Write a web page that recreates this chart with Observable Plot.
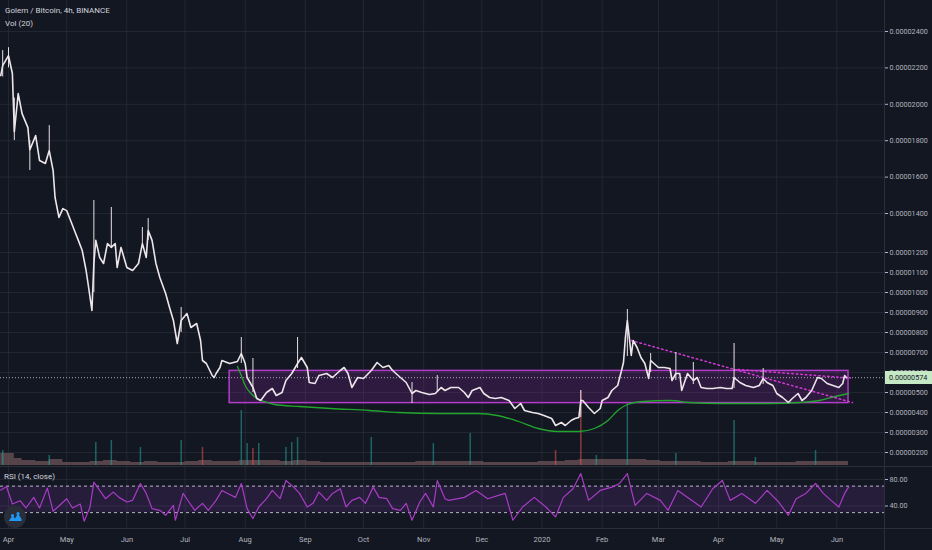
<!DOCTYPE html>
<html><head><meta charset="utf-8">
<script src="https://cdn.jsdelivr.net/npm/d3@7"></script>
<script src="https://cdn.jsdelivr.net/npm/@observablehq/plot@0.6"></script>
<style>
html,body{margin:0;padding:0;background:#131722;}
#chart{position:relative;width:932px;height:550px;background:#131722;overflow:hidden;font-family:Roboto,"Noto Sans",sans-serif;}
#chart .layer{position:absolute;left:0;}
#chart svg{display:block;}
.legend{position:absolute;color:#d1d4dc;font-size:8px;white-space:nowrap;line-height:1;}
.sep{position:absolute;background:#2a2e39;}
#lastbox{position:absolute;left:884px;width:48px;height:13px;background:#c5e8c5;color:#131722;font-size:7.2px;line-height:13px;padding-left:5px;box-sizing:border-box;}
</style></head>
<body><div id="chart"></div>
<script>
// ---------- DATA (values in satoshi = 1e-8 BTC) ----------
const price = [["2019-03-28",2158],["2019-03-29",2212],["2019-04-01",2267],["2019-04-03",2169],["2019-04-04",1850],["2019-04-06",2059],["2019-04-08",1949],["2019-04-11",1872],["2019-04-12",1750],["2019-04-15",1828],["2019-04-17",1691],["2019-04-20",1675],["2019-04-22",1746],["2019-04-24",1636],["2019-04-25",1488],["2019-04-27",1380],["2019-04-29",1427],["2019-05-01",1416],["2019-05-03",1364],["2019-05-05",1313],["2019-05-07",1262],["2019-05-09",1210],["2019-05-11",1110],["2019-05-12",1045],["2019-05-14",910],["2019-05-15",1145],["2019-05-16",1262],["2019-05-18",1175],["2019-05-20",1145],["2019-05-22",1246],["2019-05-24",1226],["2019-05-26",1246],["2019-05-27",1125],["2019-05-29",1226],["2019-06-01",1125],["2019-06-04",1110],["2019-06-07",1145],["2019-06-09",1246],["2019-06-11",1175],["2019-06-12",1313],["2019-06-14",1262],["2019-06-16",1145],["2019-06-18",1075],["2019-06-21",995],["2019-06-23",925],["2019-06-25",860],["2019-06-27",745],["2019-06-29",860],["2019-07-02",895],["2019-07-04",825],["2019-07-07",845],["2019-07-09",760],["2019-07-10",660],["2019-07-12",645],["2019-07-15",585],["2019-07-16",575],["2019-07-17",595],["2019-07-19",625],["2019-07-20",660],["2019-07-24",645],["2019-07-28",655],["2019-07-30",695],["2019-08-01",645],["2019-08-02",575],["2019-08-05",525],["2019-08-07",470],["2019-08-09",460],["2019-08-12",500],["2019-08-15",520],["2019-08-17",485],["2019-08-20",500],["2019-08-22",560],["2019-08-25",595],["2019-08-28",645],["2019-08-30",675],["2019-09-02",625],["2019-09-03",550],["2019-09-06",545],["2019-09-08",585],["2019-09-12",595],["2019-09-15",575],["2019-09-19",610],["2019-09-21",625],["2019-09-23",595],["2019-09-25",525],["2019-09-28",575],["2019-10-01",570],["2019-10-05",610],["2019-10-08",650],["2019-10-11",625],["2019-10-14",635],["2019-10-16",610],["2019-10-20",575],["2019-10-23",550],["2019-10-26",495],["2019-10-28",510],["2019-10-31",500],["2019-11-04",490],["2019-11-07",495],["2019-11-10",525],["2019-11-12",510],["2019-11-15",525],["2019-11-19",525],["2019-11-22",500],["2019-11-24",475],["2019-11-26",510],["2019-11-30",525],["2019-12-02",495],["2019-12-05",475],["2019-12-08",470],["2019-12-11",475],["2019-12-15",460],["2019-12-18",420],["2019-12-21",445],["2019-12-23",410],["2019-12-27",400],["2019-12-30",395],["2020-01-02",385],["2020-01-06",370],["2020-01-08",335],["2020-01-11",350],["2020-01-13",335],["2020-01-16",360],["2020-01-18",370],["2020-01-20",375],["2020-01-21",460],["2020-01-22",460],["2020-01-25",425],["2020-01-28",395],["2020-01-31",420],["2020-02-01",460],["2020-02-04",475],["2020-02-06",510],["2020-02-09",535],["2020-02-11",610],["2020-02-12",650],["2020-02-13",775],["2020-02-14",860],["2020-02-16",685],["2020-02-17",760],["2020-02-19",725],["2020-02-21",675],["2020-02-23",645],["2020-02-25",570],["2020-02-26",660],["2020-03-01",625],["2020-03-04",625],["2020-03-07",620],["2020-03-08",560],["2020-03-10",595],["2020-03-12",595],["2020-03-13",510],["2020-03-16",595],["2020-03-19",560],["2020-03-21",575],["2020-03-23",525],["2020-03-26",520],["2020-03-29",520],["2020-04-02",525],["2020-04-05",520],["2020-04-08",520],["2020-04-09",575],["2020-04-12",550],["2020-04-15",535],["2020-04-19",525],["2020-04-22",535],["2020-04-24",570],["2020-04-26",550],["2020-04-29",535],["2020-05-01",495],["2020-05-04",475],["2020-05-07",450],["2020-05-09",470],["2020-05-12",495],["2020-05-14",460],["2020-05-16",475],["2020-05-19",510],["2020-05-22",575],["2020-05-24",570],["2020-05-27",545],["2020-05-30",535],["2020-06-02",525],["2020-06-04",545],["2020-06-05",585],["2020-06-06",574]];

// wicks: [date, low, high]
const wicks = [["2019-03-29",2150,2295],["2019-04-01",2200,2311],["2019-04-04",1801,2034],["2019-04-12",1636,1800],["2019-04-22",1746,1883],["2019-05-15",1000,1471],["2019-05-24",1226,1433],["2019-06-09",1246,1328],["2019-06-12",1262,1374],["2019-06-29",800,925],["2019-07-30",645,775],["2019-08-05",500,670],["2019-08-28",620,775],["2019-10-26",445,550],["2019-11-08",500,585],["2020-01-21",375,510],["2020-02-14",680,915],["2020-02-26",600,695],["2020-03-10",560,700],["2020-03-19",540,650],["2020-04-09",520,745],["2020-04-24",540,620]];

// support curve (green)
const support = [["2019-07-28",630],["2019-07-30",585],["2019-08-01",535],["2019-08-04",495],["2019-08-07",470],["2019-08-11",455],["2019-08-16",440],["2019-08-29",430],["2019-09-14",420],["2019-10-04",410],["2019-10-19",400],["2019-11-09",395],["2019-11-29",395],["2019-12-09",385],["2019-12-20",355],["2019-12-30",320],["2020-01-09",305],["2020-01-20",305],["2020-01-28",320],["2020-02-04",360],["2020-02-09",410],["2020-02-14",440],["2020-02-22",455],["2020-03-07",460],["2020-03-17",450],["2020-04-02",445],["2020-04-27",445],["2020-05-13",450],["2020-05-23",460],["2020-05-31",480],["2020-06-07",495]];

// range box and trend lines
const zoneStart = "2019-07-24", zoneEnd = "2020-06-07", zoneLow = 447, zoneHigh = 608;
const trendA = [["2020-02-16",760],["2020-06-09",450]];
const trendB = [["2020-04-11",615],["2020-06-08",572]];
const lastPrice = 574;

// price axis ticks
const yTicks = [200,300,400,500,600,700,800,900,1000,1100,1200,1400,1600,1800,2000,2200,2400];

// volume (relative units)
const volBase = [["2019-03-28",12],["2019-04-01",12],["2019-04-04",7],["2019-04-08",5],["2019-04-15",4],["2019-04-22",6],["2019-04-29",3],["2019-05-06",3],["2019-05-13",4],["2019-05-20",5],["2019-05-27",4],["2019-06-03",3],["2019-06-10",4],["2019-06-17",3],["2019-06-24",3],["2019-07-01",4],["2019-07-08",5],["2019-07-15",4],["2019-07-22",4],["2019-07-29",5],["2019-08-05",5],["2019-08-12",5],["2019-08-19",4],["2019-08-26",5],["2019-09-02",4],["2019-09-09",3],["2019-09-16",3],["2019-09-23",3],["2019-09-30",3],["2019-10-07",3],["2019-10-14",3],["2019-10-21",3],["2019-10-28",4],["2019-11-04",4],["2019-11-11",4],["2019-11-18",4],["2019-11-25",4],["2019-12-02",3],["2019-12-09",3],["2019-12-16",3],["2019-12-23",3],["2019-12-30",4],["2020-01-06",4],["2020-01-13",5],["2020-01-20",6],["2020-01-27",6],["2020-02-03",6],["2020-02-10",6],["2020-02-17",6],["2020-02-24",5],["2020-03-02",4],["2020-03-09",4],["2020-03-16",4],["2020-03-23",3],["2020-03-30",3],["2020-04-06",4],["2020-04-13",4],["2020-04-20",3],["2020-04-27",3],["2020-05-04",3],["2020-05-11",4],["2020-05-18",4],["2020-05-25",4],["2020-06-01",4],["2020-06-07",4]];
// [date, volume, up(1)/down(0)]
const volSpikes = [["2019-03-29",15,1],["2019-04-22",10,1],["2019-05-16",23,1],["2019-05-24",25,1],["2019-06-08",18,1],["2019-06-29",25,1],["2019-07-10",18,0],["2019-07-30",55,1],["2019-08-02",22,1],["2019-08-05",17,0],["2019-08-08",22,1],["2019-08-22",18,1],["2019-08-25",23,1],["2019-08-28",28,1],["2019-10-05",28,1],["2019-11-06",22,1],["2019-11-25",32,1],["2020-01-08",15,0],["2020-01-21",75,0],["2020-01-29",10,1],["2020-02-14",62,1],["2020-03-10",12,1],["2020-04-09",45,1],["2020-04-20",8,1],["2020-05-21",15,1]];

// RSI(14)
const rsi = [["2019-03-28",64],["2019-03-31",69],["2019-04-03",43],["2019-04-07",48],["2019-04-10",37],["2019-04-14",53],["2019-04-17",37],["2019-04-21",67],["2019-04-24",32],["2019-04-27",40],["2019-05-01",51],["2019-05-04",37],["2019-05-08",43],["2019-05-10",17],["2019-05-13",38],["2019-05-15",76],["2019-05-18",63.5],["2019-05-21",51],["2019-05-25",61],["2019-05-28",53],["2019-06-01",46],["2019-06-04",48.5],["2019-06-08",74],["2019-06-11",59],["2019-06-14",36],["2019-06-18",33.5],["2019-06-21",26],["2019-06-25",41],["2019-06-26",18.5],["2019-06-30",59],["2019-07-03",46],["2019-07-06",33.5],["2019-07-10",44],["2019-07-13",33.5],["2019-07-17",48.5],["2019-07-20",63.5],["2019-07-23",59],["2019-07-27",53],["2019-07-30",74],["2019-08-02",36],["2019-08-05",21],["2019-08-08",38.5],["2019-08-12",51],["2019-08-15",63.5],["2019-08-19",51],["2019-08-22",78.5],["2019-08-26",68.5],["2019-08-29",59],["2019-09-02",38.5],["2019-09-05",44],["2019-09-08",61],["2019-09-12",48.5],["2019-09-15",59],["2019-09-19",66],["2019-09-22",38.5],["2019-09-25",48.5],["2019-09-29",53],["2019-10-02",44],["2019-10-06",68.5],["2019-10-09",53],["2019-10-13",51],["2019-10-16",36],["2019-10-20",33.5],["2019-10-23",44],["2019-10-26",18.5],["2019-10-30",46],["2019-11-02",59],["2019-11-06",38.5],["2019-11-08",78.5],["2019-11-12",51],["2019-11-14",48.5],["2019-11-22",53],["2019-11-28",63.5],["2019-12-04",51],["2019-12-13",59],["2019-12-17",18.5],["2019-12-22",38.5],["2019-12-28",53],["2020-01-03",38.5],["2020-01-08",23.5],["2020-01-12",53],["2020-01-17",66],["2020-01-21",89],["2020-01-25",48.5],["2020-01-31",63.5],["2020-02-06",68.5],["2020-02-10",74],["2020-02-14",89],["2020-02-18",41],["2020-02-24",59],["2020-03-02",48.5],["2020-03-06",33.5],["2020-03-11",63.5],["2020-03-17",51],["2020-03-23",38.5],["2020-03-29",66],["2020-04-03",78.5],["2020-04-07",48.5],["2020-04-13",59],["2020-04-20",44],["2020-04-26",63.5],["2020-05-02",46],["2020-05-07",26],["2020-05-11",51],["2020-05-16",59],["2020-05-21",74],["2020-05-25",59],["2020-05-29",48.5],["2020-06-02",38.5],["2020-06-05",59],["2020-06-07",68.5]];
const rsiUpper = 70, rsiLower = 30;
const rsiTicks = [40, 80];

// time axis labels
const months = [["2019-04-01","Apr"],["2019-05-01","May"],["2019-06-01","Jun"],["2019-07-01","Jul"],["2019-08-01","Aug"],["2019-09-01","Sep"],["2019-10-01","Oct"],["2019-11-01","Nov"],["2019-12-01","Dec"],["2020-01-01","2020"],["2020-02-01","Feb"],["2020-03-01","Mar"],["2020-04-01","Apr"],["2020-05-01","May"],["2020-06-01","Jun"]];

// ---------- BUILD ----------
const D = s => new Date(s.length > 10 ? s : s + "T00:00:00Z");
const priceData = price.map(([d, v]) => ({date: D(d), v}));
const wickData = wicks.map(([d, lo, hi]) => ({date: D(d), lo, hi}));
const supportData = support.map(([d, v]) => ({date: D(d), v}));
const trendData = [...trendA.map(([d, v]) => ({id: "a", date: D(d), v})), ...trendB.map(([d, v]) => ({id: "b", date: D(d), v}))];
const zone = [{x1: D(zoneStart), x2: D(zoneEnd), y1: zoneLow, y2: zoneHigh}];
const volBaseData = volBase.map(([d, v]) => ({date: D(d), v}));
const volSpikeData = volSpikes.map(([d, v, up]) => ({date: D(d), v, up}));
const rsiData = rsi.map(([d, v]) => ({date: D(d), v}));
const monthData = months.map(([d, label]) => ({date: D(d), label}));
const monthDates = monthData.map(d => d.date);
const fmtBTC = v => (v / 1e8).toFixed(8);

const chart = document.getElementById("chart");
const FONT = "Roboto, 'Noto Sans', sans-serif";
const xScale = {type: "utc", domain: [new Date("2019-03-27T21:00:00Z"), new Date("2020-06-25T13:00:00Z")], axis: null};
const common = {width: 932, marginLeft: 0, marginRight: 48, marginTop: 0, marginBottom: 0,
  style: {background: "transparent", color: "#b2b5be", fontFamily: FONT, fontSize: "7.2px", overflow: "visible"}};
const yPrice = {type: "linear", domain: [200, 1200, 1400, 2400], range: [452, 252, 213, 31], axis: null};
const GRID = "#2a2e39";

function place(node, top) {
  node.classList.add("layer");
  node.style.top = top + "px";
  chart.appendChild(node);
  return node;
}

// layer 1: grid + price axis
place(Plot.plot({...common, height: 467, x: xScale, y: yPrice,
  marks: [
    Plot.gridY(yTicks, {stroke: GRID, strokeOpacity: 0.7}),
    Plot.gridX(monthDates, {stroke: GRID, strokeOpacity: 0.7}),
    Plot.axisY(yTicks, {anchor: "right", tickFormat: fmtBTC, tickSize: 3, tickPadding: 2, label: null, color: "#b2b5be", fontSize: 7.2})
  ]}), 0);

// layer 2: volume
place(Plot.plot({...common, height: 467, x: xScale, y: {type: "linear", domain: [0, 80], range: [465, 385], axis: null},
  marks: [
    Plot.areaY(volBaseData, {x: "date", y: "v", curve: "step-after", fill: "#6e5458", fillOpacity: 0.75}),
    Plot.ruleX(volSpikeData, {x: "date", y1: 0, y2: "v", stroke: d => d.up ? "#26a69a" : "#ef5350", strokeOpacity: 0.55, strokeWidth: 1.5})
  ]}), 0);

// layer 3: drawings + price
const pricePlot = place(Plot.plot({...common, height: 467, x: xScale, y: yPrice,
  marks: [
    Plot.rect(zone, {x1: "x1", x2: "x2", y1: "y1", y2: "y2", fill: "#9c27b0", fillOpacity: 0.2, stroke: "#b23cc9", strokeWidth: 1.5}),
    Plot.ruleY([lastPrice], {stroke: "#a7a9b0", strokeDasharray: "1,2", strokeWidth: 1}),
    Plot.line(supportData, {x: "date", y: "v", curve: "monotone-x", stroke: "#22a52d", strokeWidth: 1.3}),
    Plot.line(trendData, {x: "date", y: "v", z: "id", stroke: "#d23ad6", strokeWidth: 1.5, strokeDasharray: "1.5,3"}),
    Plot.ruleX(wickData, {x: "date", y1: "lo", y2: "hi", stroke: "#e6dfe4", strokeWidth: 1}),
    Plot.line(priceData, {x: "date", y: "v", stroke: "#ece6ea", strokeWidth: 1.6})
  ]}), 0);

// last price label
const yLast = pricePlot.scale("y").apply(lastPrice);
const box = document.createElement("div");
box.id = "lastbox";
box.style.top = (yLast - 6.5) + "px";
box.textContent = fmtBTC(lastPrice);
chart.appendChild(box);

// RSI pane
place(Plot.plot({...common, height: 61, x: xScale, y: {type: "linear", domain: [0, 100], range: [65, -1.25], axis: null}, clip: true,
  marks: [
    Plot.gridX(monthDates, {stroke: GRID, strokeOpacity: 0.7}),
    Plot.gridY(rsiTicks, {stroke: GRID, strokeOpacity: 0.7}),
    Plot.rect([{lo: rsiLower, hi: rsiUpper}], {y1: "lo", y2: "hi", fill: "#7e3fb0", fillOpacity: 0.18}),
    Plot.ruleY([rsiUpper, rsiLower], {stroke: "#b8b6c8", strokeDasharray: "3,3", strokeWidth: 1}),
    Plot.line(rsiData, {x: "date", y: "v", stroke: "#a83cc4", strokeWidth: 1.2}),
    Plot.axisY(rsiTicks, {anchor: "right", tickFormat: d => d.toFixed(2), tickSize: 3, tickPadding: 2, label: null, color: "#b2b5be", fontSize: 7.2})
  ]}), 467);

// time axis
place(Plot.plot({...common, height: 22, x: xScale, y: {axis: null},
  marks: [
    Plot.text(monthData, {x: "date", text: "label", frameAnchor: "middle", fill: "#b2b5be", fontSize: 7.5})
  ]}), 528);

// separators
function sep(l, t, w, h) { const d = document.createElement("div"); d.className = "sep"; Object.assign(d.style, {left: l + "px", top: t + "px", width: w + "px", height: h + "px"}); chart.appendChild(d); }
sep(884, 0, 1, 550);
sep(0, 466, 932, 1);
sep(0, 528, 932, 1);

// legends
function legend(text, l, t, size) { const d = document.createElement("div"); d.className = "legend"; d.textContent = text; Object.assign(d.style, {left: l + "px", top: t + "px", fontSize: size + "px"}); chart.appendChild(d); }
legend("Golem / Bitcoin, 4h, BINANCE", 5, 7, 8);
legend("Vol (20)", 5, 20, 8);
legend("RSI (14, close)", 4, 473, 8);

// logo
const logo = document.createElementNS("http://www.w3.org/2000/svg", "svg");
logo.setAttribute("width", 24); logo.setAttribute("height", 24);
logo.style.position = "absolute"; logo.style.left = "3px"; logo.style.top = "505px";
logo.innerHTML = '<circle cx="12" cy="12" r="11" fill="#2a2e39"/><path d="M6 15.5 L9.5 10.5 L12 13.5 L15 8.5 L18.5 14 L18.5 16 L6 16 Z" fill="#2196f3"/><circle cx="9.5" cy="10.5" r="1.6" fill="#2196f3"/><circle cx="15" cy="8.5" r="1.6" fill="#2196f3"/>';
chart.appendChild(logo);
</script>
</body></html>
